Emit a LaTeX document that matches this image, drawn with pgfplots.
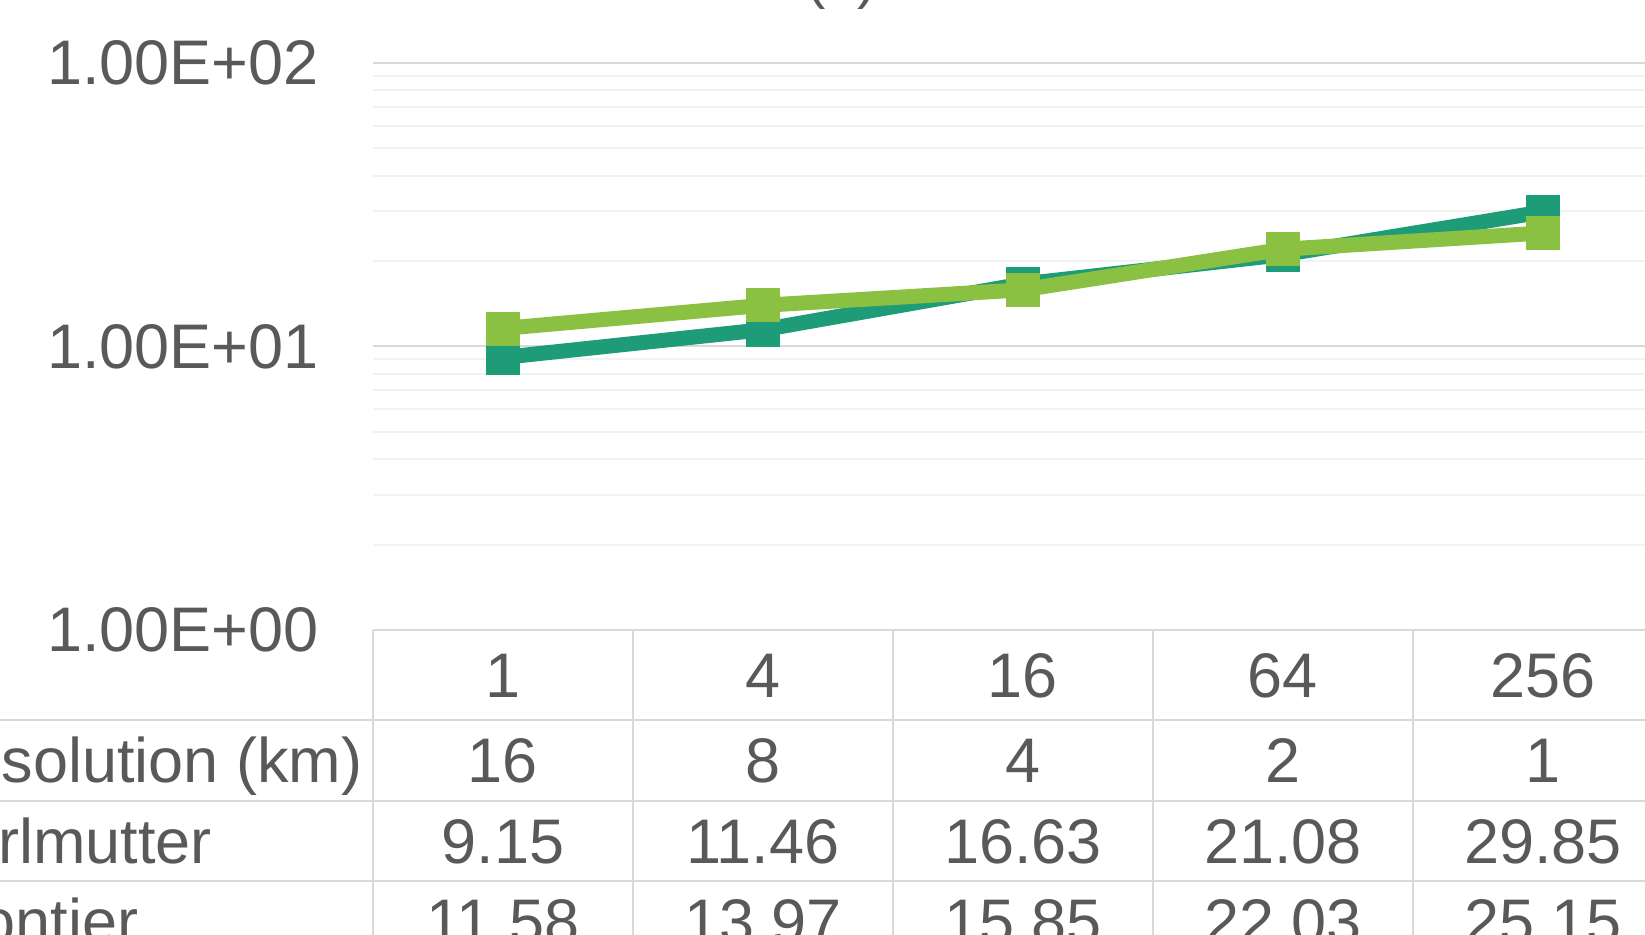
\documentclass[border=0pt]{standalone}
\usepackage{pgfplots}
\usepackage{pgfplotstable}
\pgfplotsset{compat=1.18}
\usepackage{fontspec}
\setmainfont{Liberation Sans}

\definecolor{txt}{HTML}{595959}
\definecolor{gmaj}{HTML}{D9D9D9}
\definecolor{gmin}{HTML}{F2F2F2}
\definecolor{perl}{HTML}{1E9C78}
\definecolor{front}{HTML}{8BC142}

% idx: category position; procs: node count; res: resolution in km
\pgfplotstableread{
idx procs res perl front
0   1     16  9.15  11.58
1   4     8   11.46 13.97
2   16    4   16.63 15.85
3   64    2   21.08 22.03
4   256   1   29.85 25.15
}\datatab

\begin{document}
\begin{tikzpicture}[x=1pt,y=1pt,
  cell/.style={font=\fontsize{31.5}{36}\selectfont, text=txt, inner sep=0pt}]
\useasboundingbox (-186.5,-152.5) rectangle (636,315);
\clip (-186.5,-152.5) rectangle (636,315);

\begin{axis}[
  at={(0,0)}, anchor=south west,
  scale only axis, width=650pt, height=283.5pt,
  ymode=log, ymin=1, ymax=100,
  xmin=-0.5, xmax=4.5,
  xtick=\empty,
  ytick={1,10,100},
  yticklabels={1.00E+00,1.00E+01,1.00E+02},
  minor ytick={2,3,4,5,6,7,8,9,20,30,40,50,60,70,80,90},
  ymajorgrids, yminorgrids,
  major grid style={gmaj, line width=1pt},
  minor grid style={gmin, line width=1pt},
  axis line style={draw=none},
  tick style={draw=none},
  yticklabel style={anchor=east, inner sep=0pt, xshift=-27pt,
    font=\fontsize{31.5}{36}\selectfont, text=txt},
  clip=false,
]
\addplot[perl, line width=7.5pt, line join=round,
  mark=square*, mark size=8.25pt,
  mark options={line width=0.4pt, line join=miter, draw=perl, fill=perl}]
  table[x=idx, y=perl] {\datatab};
\addplot[front, line width=7.5pt, line join=round,
  mark=square*, mark size=8.25pt,
  mark options={line width=0.4pt, line join=miter, draw=front, fill=front}]
  table[x=idx, y=front] {\datatab};
\end{axis}

% chart title
\node[font=\fontsize{29}{34}\selectfont, text=txt, anchor=base] at (234.25,316) {(b)};

% data table grid
\draw[gmaj, line width=1pt] (0,0) -- (650,0);
\foreach \r in {-45,-85.5,-125.5}
  \draw[gmaj, line width=1pt] (-300,\r) -- (650,\r);
\foreach \c in {0,130,...,650}
  \draw[gmaj, line width=1pt] (\c,0) -- (\c,-170);

% row labels
\node[cell, anchor=base west] at (-226,-76.5) {Resolution (km)};
\node[cell, anchor=base west] at (-226,-116.8) {Perlmutter};
\node[cell, anchor=base west] at (-226,-157) {Frontier};

% table cells
\foreach \i in {0,...,4}{
  \pgfplotstablegetelem{\i}{procs}\of\datatab \edef\va{\pgfplotsretval}
  \pgfplotstablegetelem{\i}{res}\of\datatab \edef\vb{\pgfplotsretval}
  \pgfplotstablegetelem{\i}{perl}\of\datatab \edef\vc{\pgfplotsretval}
  \pgfplotstablegetelem{\i}{front}\of\datatab \edef\vd{\pgfplotsretval}
  \node[cell, anchor=base] at (65+130*\i,-33.8) {\va};
  \node[cell, anchor=base] at (65+130*\i,-76.5) {\vb};
  \node[cell, anchor=base] at (65+130*\i,-116.8) {\vc};
  \node[cell, anchor=base] at (65+130*\i,-157) {\vd};
}
\end{tikzpicture}
\end{document}
